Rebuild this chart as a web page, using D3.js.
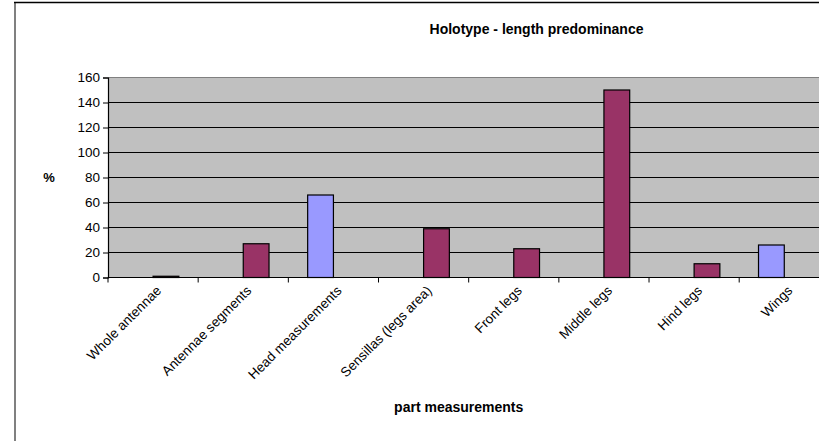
<!DOCTYPE html>
<html>
<head>
<meta charset="utf-8">
<script src="https://cdn.jsdelivr.net/npm/d3@7"></script>
<style>
  html, body { margin: 0; padding: 0; background: #ffffff; }
  svg { display: block; font-family: "Liberation Sans", Arial, sans-serif; }
</style>
</head>
<body>
<svg id="chart" width="827" height="441"></svg>
<script>
// Body parts measured on the holotype
const categories = [
  "Whole antennae", "Antennae segments", "Head measurements",
  "Sensillas (legs area)", "Front legs", "Middle legs", "Hind legs", "Wings"
];
// Two series: blue bars sit left of each category centre, purple bars right of it
const seriesNames = ["blue", "purple"];
const blueValues   = [null, null, 66, null, null, null, null, 26];
const purpleValues = [1, 27, null, 39, 23, 150, 11, null];
const yTicks = [0, 20, 40, 60, 80, 100, 120, 140, 160];

const colors = { blue: "#9999FF", purple: "#993366" };

const svg = d3.select("#chart");
const W = 827, H = 441;

const plot = { left: 108, right: 819, top: 77.5, bottom: 277.5 };
const catStep = 90.17;

const x = d3.scaleBand()
  .domain(categories)
  .range([plot.left, plot.left + catStep * categories.length])
  .paddingInner(0).paddingOuter(0);

const xs = d3.scaleBand()
  .domain(seriesNames)
  .range([0, x.bandwidth()])
  .paddingInner(0).paddingOuter(0.75);

const y = d3.scaleLinear().domain([0, 160]).range([plot.bottom, plot.top]);

// chart frame
svg.append("rect").attr("width", W).attr("height", H).attr("fill", "#ffffff");
svg.append("line").attr("x1", 15).attr("x2", 15).attr("y1", 2).attr("y2", H)
  .attr("stroke", "#808080").attr("stroke-width", 2);
svg.append("line").attr("x1", 14).attr("x2", plot.right).attr("y1", 2.5).attr("y2", 2.5)
  .attr("stroke", "#000").attr("stroke-width", 1.5);

// plot background
svg.append("rect")
  .attr("x", plot.left).attr("y", plot.top)
  .attr("width", plot.right - plot.left).attr("height", plot.bottom - plot.top)
  .attr("fill", "#C0C0C0");

// gridlines
svg.append("g").selectAll("line")
  .data(yTicks.filter(t => t > 0 && t < 160))
  .join("line")
  .attr("x1", plot.left).attr("x2", plot.right)
  .attr("y1", d => y(d)).attr("y2", d => y(d))
  .attr("stroke", "#000").attr("stroke-width", 1);
svg.append("line")
  .attr("x1", plot.left).attr("x2", plot.right)
  .attr("y1", y(160)).attr("y2", y(160))
  .attr("stroke", "#808080").attr("stroke-width", 1);

// bars
const rows = categories.map((c, i) => ({ cat: c, blue: blueValues[i], purple: purpleValues[i] }));
const groups = svg.append("g").selectAll("g")
  .data(rows).join("g")
  .attr("transform", d => `translate(${x(d.cat)},0)`);
groups.selectAll("rect")
  .data(d => seriesNames.filter(s => d[s] != null).map(s => ({ key: s, value: d[s] })))
  .join("rect")
  .attr("x", d => xs(d.key))
  .attr("width", xs.bandwidth())
  .attr("y", d => y(d.value))
  .attr("height", d => y(0) - y(d.value))
  .attr("fill", d => colors[d.key])
  .attr("stroke", "#000").attr("stroke-width", 1.2);

// y axis
const yAxis = svg.append("g")
  .attr("transform", `translate(${plot.left},0)`)
  .call(d3.axisLeft(y).tickValues(yTicks).tickSize(5).tickPadding(3));
yAxis.select(".domain").attr("stroke", "#000").attr("stroke-width", 1.2);
yAxis.selectAll(".tick line").attr("stroke", "#000");
yAxis.selectAll(".tick text")
  .attr("font-size", 13.5).attr("fill", "#000")
  .attr("font-family", "'Liberation Sans', Arial, sans-serif");

// x axis baseline and category boundary ticks
svg.append("line")
  .attr("x1", plot.left).attr("x2", plot.right)
  .attr("y1", y(0)).attr("y2", y(0))
  .attr("stroke", "#000").attr("stroke-width", 1.2);
svg.append("g").selectAll("line")
  .data(categories)
  .join("line")
  .attr("x1", d => x(d)).attr("x2", d => x(d))
  .attr("y1", y(0)).attr("y2", y(0) + 5)
  .attr("stroke", "#000");

// rotated category labels
svg.append("g").selectAll("text")
  .data(categories)
  .join("text")
  .attr("transform", d => `translate(${x(d) + x.bandwidth() / 2 + 9},${y(0) + 14}) rotate(-45)`)
  .attr("text-anchor", "end")
  .attr("font-size", 13.5)
  .attr("fill", "#000")
  .text(d => d);

// titles
svg.append("text")
  .attr("x", 536.5).attr("y", 34.3)
  .attr("text-anchor", "middle")
  .attr("font-size", 14).attr("font-weight", "bold")
  .text("Holotype - length predominance");
svg.append("text")
  .attr("x", 458.7).attr("y", 412.3)
  .attr("text-anchor", "middle")
  .attr("font-size", 14).attr("font-weight", "bold")
  .text("part measurements");
svg.append("text")
  .attr("x", 49).attr("y", 181.5)
  .attr("text-anchor", "middle")
  .attr("font-size", 13).attr("font-weight", "bold")
  .text("%");
</script>
</body>
</html>
